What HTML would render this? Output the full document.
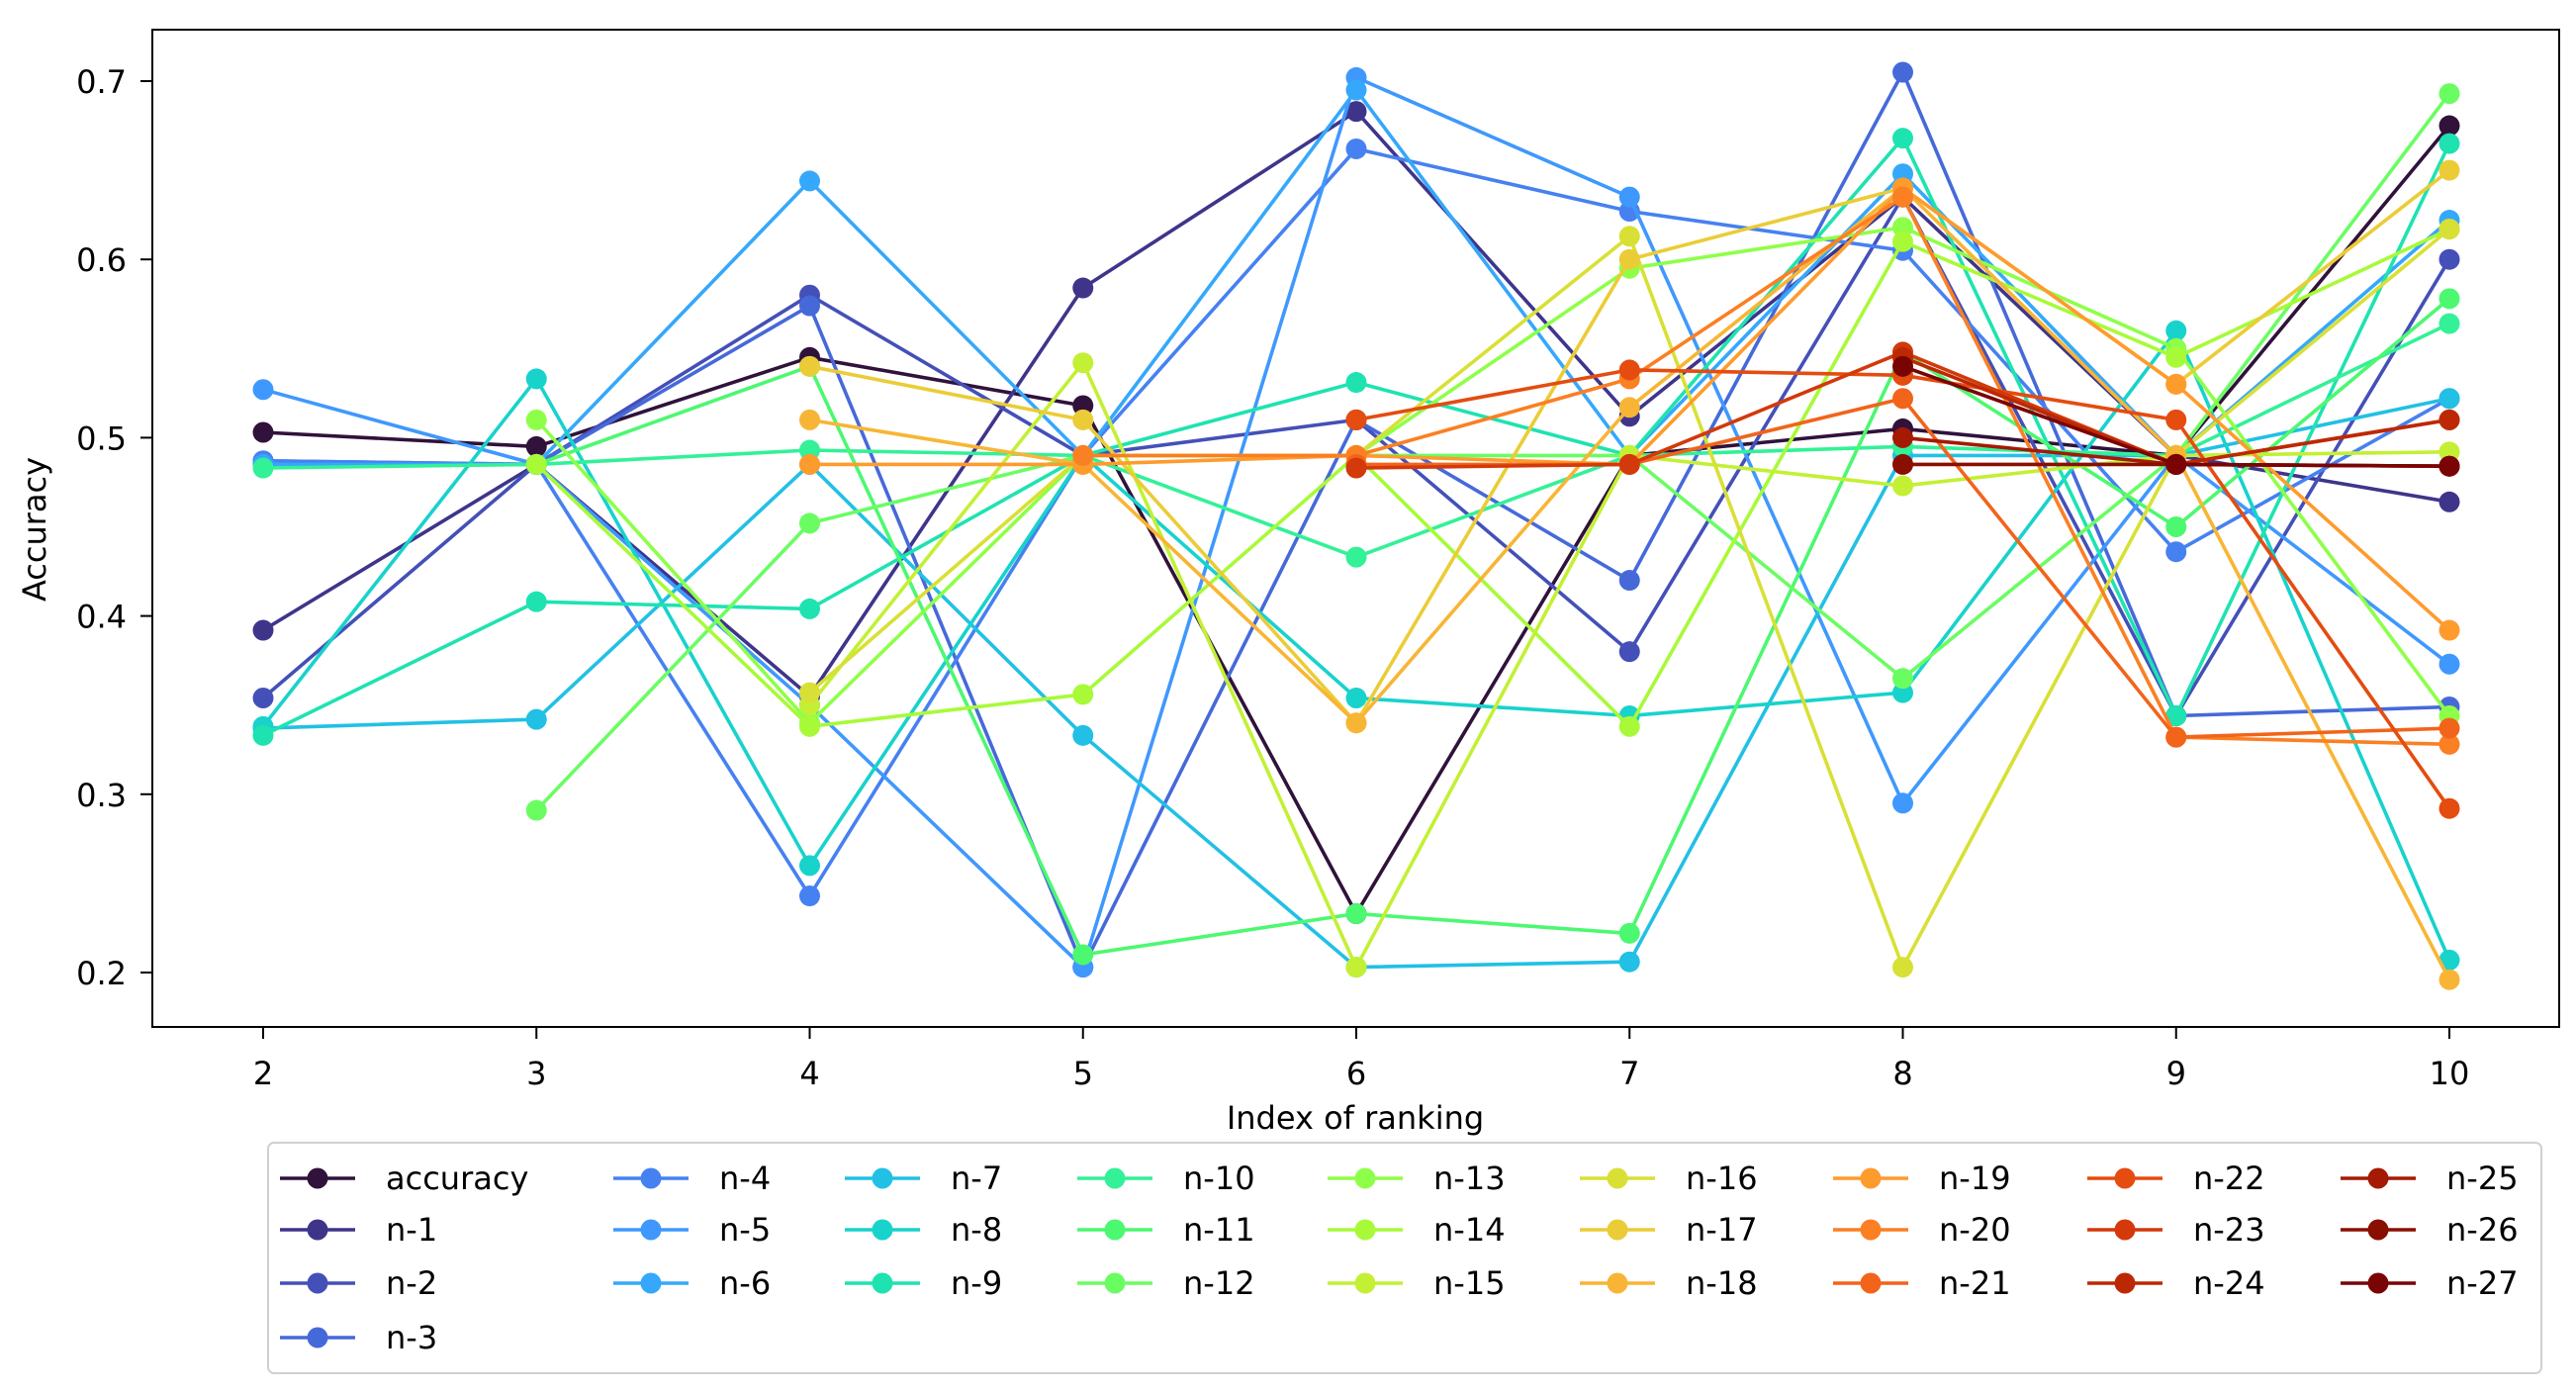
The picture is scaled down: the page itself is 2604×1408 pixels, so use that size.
<!DOCTYPE html>
<html><head><meta charset="utf-8"><style>
html,body{margin:0;padding:0;background:#fff;}
svg{display:block;font-family:"DejaVu Sans","Liberation Sans",sans-serif;}
</style></head><body>
<svg id="chart" width="2604" height="1408" viewBox="0 0 2604 1408" xmlns="http://www.w3.org/2000/svg">
<rect x="0" y="0" width="2604" height="1408" fill="#fff"/>
<g id="series"></g>
<rect x="154" y="30" width="2433" height="1008" fill="none" stroke="#000" stroke-width="2"/>
<g id="xaxis"></g>
<g id="yaxis"></g>
<text x="1370" y="1141" font-size="32" text-anchor="middle" fill="#000">Index of ranking</text>
<text x="0" y="0" font-size="32" text-anchor="middle" fill="#000" transform="translate(46,535) rotate(-90)">Accuracy</text>
<rect x="271" y="1155" width="2298" height="233" rx="6" fill="#fff" stroke="#d0d0d0" stroke-width="2"/>
<g id="legend"></g>
</svg>
<script>
const categories = [2,3,4,5,6,7,8,9,10];
const yTicks = [0.2,0.3,0.4,0.5,0.6,0.7];
const yTickLabels = ["0.2","0.3","0.4","0.5","0.6","0.7"];
const seriesNames = ["accuracy","n-1","n-2","n-3","n-4","n-5","n-6","n-7","n-8","n-9","n-10","n-11","n-12","n-13","n-14","n-15","n-16","n-17","n-18","n-19","n-20","n-21","n-22","n-23","n-24","n-25","n-26","n-27"];
const seriesColors = ["#30123b","#3e358b","#4450b8","#4669da","#4681f1","#3f98fd","#35a8fb","#22c0e4","#18d2cc","#1ee3b0","#32f197","#4cf870","#6afd62","#8eff48","#a8fa38","#c3f034","#d8e035","#ebcc37","#f8b535","#fe9b2d","#fb7f23","#f2641a","#e44c10","#d3390a","#bd2804","#a41a02","#890f01","#7a0403"];
const s_acc = [0.503,0.495,0.545,0.518,0.233,0.490,0.505,0.490,0.675];
const s_n1 = [0.392,0.485,0.355,0.584,0.683,0.512,0.635,0.490,0.464];
const s_n2 = [0.354,0.485,0.580,0.490,0.510,0.380,0.635,0.344,0.600];
const s_n3 = [0.487,0.485,0.574,0.203,0.510,0.420,0.705,0.344,0.349];
const s_n4 = [0.487,0.485,0.243,0.490,0.662,0.627,0.605,0.436,0.522];
const s_n5 = [0.527,0.485,0.350,0.203,0.702,0.635,0.295,0.490,0.373];
const s_n6 = [0.485,0.485,0.644,0.490,0.695,0.490,0.648,0.490,0.622];
const s_n7 = [0.337,0.342,0.485,0.333,0.203,0.206,0.490,0.490,0.522];
const s_n8 = [0.338,0.533,0.260,0.490,0.354,0.344,0.357,0.560,0.207];
const s_n9 = [0.333,0.408,0.404,0.490,0.531,0.490,0.668,0.344,0.665];
const s_n10 = [0.483,0.485,0.493,0.490,0.433,0.490,0.495,0.490,0.564];
const s_n11 = [null,0.485,0.540,0.210,0.233,0.222,0.548,0.450,0.578];
const s_n12 = [null,0.291,0.452,0.490,0.490,0.490,0.365,0.490,0.693];
const s_n13 = [null,0.510,0.340,0.490,0.490,0.595,0.618,0.550,0.344];
const s_n14 = [null,0.485,0.338,0.356,0.490,0.338,0.610,0.545,0.617];
const s_n15 = [null,null,0.350,0.542,0.203,0.490,0.473,0.490,0.492];
const s_n16 = [null,null,0.357,0.490,0.490,0.613,0.203,0.490,0.617];
const s_n17 = [null,null,0.540,0.510,0.340,0.600,0.640,0.530,0.650];
const s_n18 = [null,null,0.510,0.485,0.340,0.517,0.640,0.490,0.196];
const s_n19 = [null,null,0.485,0.485,0.490,0.485,0.640,0.530,0.392];
const s_n20 = [null,null,null,0.490,0.490,0.533,0.635,0.332,0.328];
const s_n21 = [null,null,null,null,0.485,0.485,0.522,0.332,0.337];
const s_n22 = [null,null,null,null,0.510,0.538,0.535,0.510,0.292];
const s_n23 = [null,null,null,null,0.483,0.485,0.548,0.485,0.510];
const s_n24 = [null,null,null,null,null,null,0.545,0.485,0.510];
const s_n25 = [null,null,null,null,null,null,0.500,0.485,0.484];
const s_n26 = [null,null,null,null,null,null,0.485,0.485,0.484];
const s_n27 = [null,null,null,null,null,null,0.540,0.485,0.484];
const seriesValues = [s_acc,s_n1,s_n2,s_n3,s_n4,s_n5,s_n6,s_n7,s_n8,s_n9,s_n10,s_n11,s_n12,s_n13,s_n14,s_n15,s_n16,s_n17,s_n18,s_n19,s_n20,s_n21,s_n22,s_n23,s_n24,s_n25,s_n26,s_n27];

const NS = "http://www.w3.org/2000/svg";
function xScale(v){ return 266 + (v - 2) * 276.25; }
function yScale(v){ return 983 - (v - 0.2) * 1802; }
function mk(tag, attrs, parent){ const e = document.createElementNS(NS, tag); for (const k in attrs) e.setAttribute(k, attrs[k]); parent.appendChild(e); return e; }

const xg = document.getElementById('xaxis');
categories.forEach(function(c){
  const x = xScale(c);
  const t = mk('line', {x1:x, x2:x, y1:1038, y2:1050, stroke:'#000', 'stroke-width':2}, xg);
  
  
  const l = mk('text', {x:x, y:1096, 'font-size':32, 'text-anchor':'middle', fill:'#000'}, xg);
  l.textContent = String(c);
  
  
});
const yg = document.getElementById('yaxis');
yTicks.forEach(function(v, i){
  const y = yScale(v);
  const t = mk('line', {x1:142, x2:154, y1:y, y2:y, stroke:'#000', 'stroke-width':2}, yg);
  
  
  const l = mk('text', {x:128, y:y + 12, 'font-size':32, 'text-anchor':'end', fill:'#000'}, yg);
  l.textContent = yTickLabels[i];
  
  
});

const sg = document.getElementById('series');
seriesValues.forEach(function(vals, si){
  const g = mk('g', {}, sg);
  
  
  const col = seriesColors[si];
  let seg = [];
  const segs = [];
  vals.forEach(function(v, i){
    if (v === null) { if (seg.length) segs.push(seg); seg = []; }
    else seg.push([xScale(categories[i]), yScale(v)]);
  });
  if (seg.length) segs.push(seg);
  segs.forEach(function(s){
    if (s.length > 1) {
      const p = mk('polyline', {points: s.map(function(q){return q[0].toFixed(1)+','+q[1].toFixed(1);}).join(' '), fill:'none', stroke:col, 'stroke-width':3.6, 'stroke-linejoin':'round'}, g);
      
      
    }
  });
  vals.forEach(function(v, i){
    if (v === null) return;
    const c = mk('circle', {cx:xScale(categories[i]), cy:yScale(v), r:10.5, fill:col}, g);
    
    
  });
});

const lg = document.getElementById('legend');
const colX = [283, 620, 854, 1089, 1342, 1597, 1853, 2110, 2366];
const rowY = [1191, 1243, 1297, 1352];
seriesNames.forEach(function(name, i){
  let col, row;
  if (i < 4) { col = 0; row = i; } else { col = 1 + Math.floor((i - 4) / 3); row = (i - 4) % 3; }
  const x = colX[col], y = rowY[row];
  const g = mk('g', {}, lg);
  
  
  mk('line', {x1:x, x2:x + 76, y1:y, y2:y, stroke:seriesColors[i], 'stroke-width':3.6}, g);
  mk('circle', {cx:x + 38, cy:y, r:10.5, fill:seriesColors[i]}, g);
  const t = mk('text', {x:x + 107, y:y + 11, 'font-size':32, fill:'#000'}, g);
  t.textContent = name;
});
</script>
</body></html>
